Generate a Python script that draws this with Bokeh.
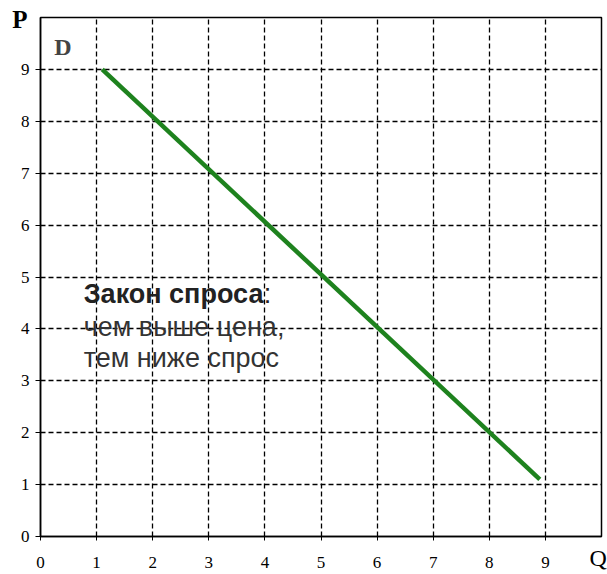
from bokeh.plotting import figure
from bokeh.models import Label, FixedTicker, LinearAxis
from bokeh.embed import file_html
from bokeh.resources import INLINE

# Data
demand_q = [1.1, 8.9]
demand_p = [9.0, 1.1]
ticks = [0, 1, 2, 3, 4, 5, 6, 7, 8, 9]
grid_lines = [1, 2, 3, 4, 5, 6, 7, 8, 9]
p_name_pos = [9.97]
q_name_pos = [9.94]
text_title = "Закон спроса"
text_line2 = "чем выше цена,"
text_line3 = "тем ниже спрос"

p = figure(width=607, height=574, x_range=(0, 10), y_range=(0, 10),
           output_backend="svg", toolbar_location=None,
           min_border_left=40, min_border_right=6, min_border_top=17, min_border_bottom=38)

p.background_fill_color = "white"
p.border_fill_color = "white"
p.outline_line_color = "black"
p.outline_line_width = 1.5

for ax in (p.xaxis[0], p.yaxis[0]):
    ax.ticker = FixedTicker(ticks=ticks)
    ax.axis_line_color = "black"
    ax.axis_line_width = 1.5
    ax.major_tick_line_color = "black"
    ax.major_tick_in = 4
    ax.minor_tick_line_color = None
    ax.major_label_text_font = "Liberation Serif"
    ax.major_label_text_font_size = "17px"
    ax.major_label_text_color = "black"

p.xaxis[0].major_tick_out = 4
p.xaxis[0].major_label_standoff = 16
p.yaxis[0].major_tick_out = 5
p.yaxis[0].major_label_standoff = 6

# axis names as extra label-only axes
p_axis = LinearAxis(ticker=FixedTicker(ticks=p_name_pos), major_label_overrides={p_name_pos[0]: "P"},
                    axis_line_color=None, major_tick_line_color=None, minor_tick_line_color=None,
                    major_tick_in=0, major_tick_out=0, major_label_standoff=-10,
                    major_label_text_font="Liberation Serif", major_label_text_font_style="bold",
                    major_label_text_font_size="25px", major_label_text_color="black")
p.add_layout(p_axis, "left")
q_axis = LinearAxis(ticker=FixedTicker(ticks=q_name_pos), major_label_overrides={q_name_pos[0]: "Q"},
                    axis_line_color=None, major_tick_line_color=None, minor_tick_line_color=None,
                    major_tick_in=0, major_tick_out=0, major_label_standoff=-26,
                    major_label_text_font="Liberation Serif",
                    major_label_text_font_size="24px", major_label_text_color="black")
p.add_layout(q_axis, "below")

p.xgrid.ticker = FixedTicker(ticks=grid_lines)
p.ygrid.ticker = FixedTicker(ticks=grid_lines)
for g in (p.xgrid[0], p.ygrid[0]):
    g.grid_line_color = "black"
    g.grid_line_dash = "5 3"
    g.grid_line_width = 1.3
    g.grid_line_alpha = 1.0

p.line(demand_q, demand_p, line_color="#1e821e", line_width=4.5)

p.add_layout(Label(x=0.4, y=9.44, text="D", text_font="Liberation Serif",
                   text_font_style="bold", text_font_size="24px",
                   text_align="center", text_baseline="middle"))

# Annotation text
p.add_layout(Label(x=0.77, y=4.68, text=text_title, text_font="Liberation Sans",
                   text_font_style="bold", text_font_size="27px", text_color="#222222",
                   text_align="left", text_baseline="alphabetic"))
p.add_layout(Label(x=3.98, y=4.68, text=":", text_font="Liberation Sans",
                   text_font_size="27px", text_color="#222222",
                   text_align="left", text_baseline="alphabetic"))
p.add_layout(Label(x=0.77, y=4.03, text=text_line2, text_font="Liberation Sans",
                   text_font_size="27px", text_color="#333333",
                   text_align="left", text_baseline="alphabetic"))
p.add_layout(Label(x=0.77, y=3.43, text=text_line3, text_font="Liberation Sans",
                   text_font_size="27px", text_color="#333333",
                   text_align="left", text_baseline="alphabetic"))

open("out.html", "w").write(file_html(p, INLINE))
